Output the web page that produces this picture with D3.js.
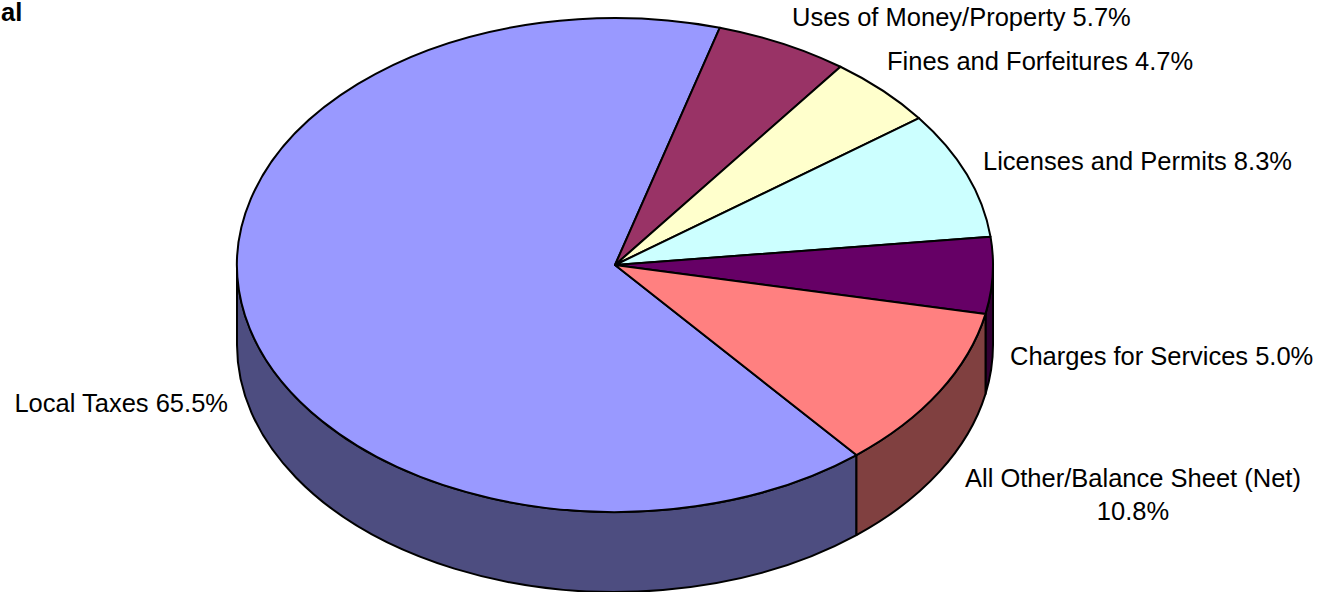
<!DOCTYPE html>
<html>
<head>
<meta charset="utf-8">
<script src="https://cdn.jsdelivr.net/npm/d3@7"></script>
<style>
  body { margin: 0; background: #fff; }
  svg { display: block; font-family: Arial, "Liberation Sans", sans-serif; }
</style>
</head>
<body>
<svg id="chart"></svg>
<script>
// Revenue pie (3D look, Excel style)
const categories = ["Local Taxes", "Uses of Money/Property", "Fines and Forfeitures",
    "Licenses and Permits", "Charges for Services", "All Other/Balance Sheet (Net)"];
const values = [65.5, 5.7, 4.7, 8.3, 5.0, 10.8];
const topColors = ["#9999FF", "#993366", "#FFFFCC", "#CCFFFF", "#660066", "#FF8080"];
const sideColors = ["#4D4D80", "#4D1A33", "#808066", "#668080", "#330033", "#804040"];

// label placement (x / anchor, baseline y)
const labelPos = [
    { x: 228, y: 412, anchor: "end" },
    { x: 792, y: 26, anchor: "start" },
    { x: 887, y: 70, anchor: "start" },
    { x: 983, y: 170, anchor: "start" },
    { x: 1010, y: 365, anchor: "start" },
    { x: 1133, y: 487, anchor: "middle", split: true }
];

const width = 1326, height = 592;
const cx = 615, cy = 265, rx = 378, ry = 247, depth = 80;
const startDeg = 140.3;
const fontSize = "25.5px";

const svg = d3.select("#chart")
    .attr("width", width)
    .attr("height", height);

// title is clipped by the page in the original, only "al" shows
svg.append("text")
    .attr("x", 1)
    .attr("y", 21)
    .style("font-size", fontSize)
    .style("font-weight", "bold")
    .text("al");

const pie = d3.pie()
    .sort(null)
    .startAngle(startDeg * Math.PI / 180)
    .endAngle(startDeg * Math.PI / 180 + 2 * Math.PI);

const arcs = pie(values);

function pt(a, dy) {
    return [cx + rx * Math.sin(a), cy - ry * Math.cos(a) + (dy || 0)];
}

function topPath(d) {
    const p0 = pt(d.startAngle), p1 = pt(d.endAngle);
    const large = (d.endAngle - d.startAngle) > Math.PI ? 1 : 0;
    return `M${cx},${cy}L${p0[0]},${p0[1]}A${rx},${ry} 0 ${large} 1 ${p1[0]},${p1[1]}Z`;
}

// visible front wall lies between 90deg and 270deg (clockwise from top)
function sidePath(d) {
    const lo = Math.PI / 2, hi = 3 * Math.PI / 2;
    let segs = [];
    for (let k = -1; k <= 1; k++) {
        const a0 = Math.max(d.startAngle, lo + k * 2 * Math.PI);
        const a1 = Math.min(d.endAngle, hi + k * 2 * Math.PI);
        if (a1 > a0) segs.push([a0, a1]);
    }
    return segs.map(([a0, a1]) => {
        const p0 = pt(a0), p1 = pt(a1);
        const q1 = pt(a1, depth), q0 = pt(a0, depth);
        const large = (a1 - a0) > Math.PI ? 1 : 0;
        return `M${p0[0]},${p0[1]}A${rx},${ry} 0 ${large} 1 ${p1[0]},${p1[1]}` +
            `L${q1[0]},${q1[1]}A${rx},${ry} 0 ${large} 0 ${q0[0]},${q0[1]}Z`;
    }).join("");
}

svg.append("g")
    .selectAll("path")
    .data(arcs)
    .enter().append("path")
    .attr("d", sidePath)
    .attr("fill", (d, i) => sideColors[i])
    .attr("stroke", "#000")
    .attr("stroke-width", 2)
    .attr("stroke-linejoin", "round");

svg.append("g")
    .selectAll("path")
    .data(arcs)
    .enter().append("path")
    .attr("d", topPath)
    .attr("fill", (d, i) => topColors[i])
    .attr("stroke", "#000")
    .attr("stroke-width", 2)
    .attr("stroke-linejoin", "round");

const labels = svg.append("g")
    .selectAll("text")
    .data(arcs)
    .enter().append("text")
    .attr("x", (d, i) => labelPos[i].x)
    .attr("y", (d, i) => labelPos[i].y)
    .attr("text-anchor", (d, i) => labelPos[i].anchor)
    .style("font-size", fontSize)
    .style("fill", "#000");

labels.each(function (d, i) {
    const t = d3.select(this);
    const pct = d3.format(".1f")(values[i]) + "%";
    if (labelPos[i].split) {
        t.append("tspan").attr("x", labelPos[i].x).text(categories[i]);
        t.append("tspan").attr("x", labelPos[i].x).attr("dy", 33).text(pct);
    } else {
        t.text(`${categories[i]} ${pct}`);
    }
});
</script>
</body>
</html>
